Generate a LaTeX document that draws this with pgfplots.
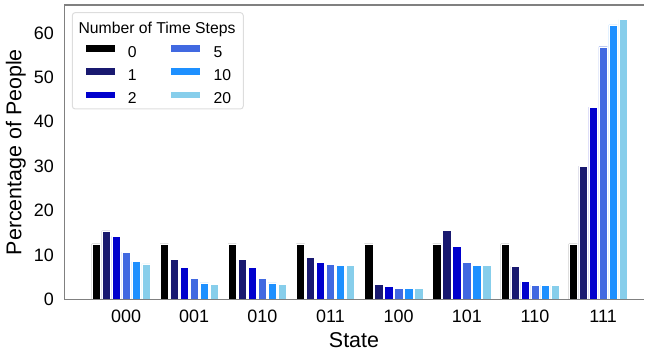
\documentclass[border=0pt]{standalone}
\usepackage{pgfplots}
\pgfplotsset{compat=1.18}
\usepackage{fontspec}
\setmainfont{Liberation Sans}
\definecolor{c0}{HTML}{000000}
\definecolor{c1}{HTML}{191970}
\definecolor{c2}{HTML}{0000CD}
\definecolor{c5}{HTML}{4169E1}
\definecolor{c10}{HTML}{1E90FF}
\definecolor{c20}{HTML}{87CEEB}
\definecolor{spine}{HTML}{808080}
\definecolor{legframe}{HTML}{DDDDDD}
\begin{document}
\begin{tikzpicture}
\path[use as bounding box] (-64bp,-54.7bp) rectangle (585bp,299.3bp);
\begin{axis}[
  at={(0,0)}, anchor=south west,
  scale only axis, width=580bp, height=294.3bp,
  xmin=-0.91, xmax=7.60, ymin=0, ymax=66.3,
  ybar, bar width=0.122,
  axis line style={draw=none},
  major tick length=0pt,
  xtick={0,...,7}, xticklabels={000,001,010,011,100,101,110,111},
  ytick={0,10,...,60},
  /pgf/number format/assume math mode=true,
  tick label style={font=\fontsize{18}{21}\selectfont, inner sep=0pt},
  yticklabel style={anchor=east, xshift=-10bp},
  xticklabel style={anchor=north, yshift=-10.7bp},
  xlabel={State}, ylabel={Percentage of People},
  label style={font=\fontsize{21.5}{25}\selectfont},
  xlabel style={at={(axis description cs:0.5,-0.138)}, anchor=center},
  ylabel style={at={(axis description cs:-0.083,0.5)}, anchor=center},
  every axis plot/.append style={draw=white, line width=0.4bp},
  legend image code/.code={\fill[#1] (0bp,1.6bp) rectangle (30bp,9.2bp);},
  legend columns=3, transpose legend,
  legend cell align=left,
  legend style={at={(axis description cs:0.035,0.8678)}, anchor=north west,
    draw=none, fill=none, inner sep=0pt,
    font=\fontsize{15.8}{18}\selectfont,
    nodes={inner sep=0pt, text height=11bp, text depth=3bp},
    row sep=6.8bp,
    /tikz/every odd column/.append style={column sep=13bp},
    /tikz/every even column/.append style={column sep=33.5bp}},
]
\addplot[fill=c0, bar shift=-0.4404] coordinates {(0,12.5) (1,12.5) (2,12.5) (3,12.5) (4,12.5) (5,12.5) (6,12.5) (7,12.5)};
\addplot[fill=c1, bar shift=-0.2936] coordinates {(0,15.4) (1,9.0) (2,9.0) (3,9.4) (4,3.3) (5,15.6) (6,7.4) (7,30.0)};
\addplot[fill=c2, bar shift=-0.1468] coordinates {(0,14.2) (1,7.2) (2,7.2) (3,8.3) (4,2.9) (5,12.0) (6,4.0) (7,43.3)};
\addplot[fill=c5, bar shift=0] coordinates {(0,10.6) (1,4.7) (2,4.7) (3,7.9) (4,2.4) (5,8.3) (6,3.2) (7,56.9)};
\addplot[fill=c10, bar shift=0.1468] coordinates {(0,8.5) (1,3.7) (2,3.7) (3,7.7) (4,2.4) (5,7.7) (6,3.2) (7,61.8)};
\addplot[fill=c20, bar shift=0.2936] coordinates {(0,8.0) (1,3.4) (2,3.4) (3,7.7) (4,2.4) (5,7.6) (6,3.2) (7,63.0)};
\legend{0,1,2,5,10,20}
\draw[spine, line width=1.25bp] (axis description cs:0,1) -- (axis description cs:1,1);
\draw[spine, line width=1.25bp] (axis description cs:0,1) -- (axis description cs:0,0) -- (axis description cs:1,0);
\end{axis}
\draw[legframe, line width=1bp, rounded corners=3bp] (8.3bp,286.7bp) rectangle (179.3bp,190.3bp);
\node[anchor=base, inner sep=0pt, font=\fontsize{15.8}{18}\selectfont] at (93bp,266bp) {Number of Time Steps};
\end{tikzpicture}
\end{document}
